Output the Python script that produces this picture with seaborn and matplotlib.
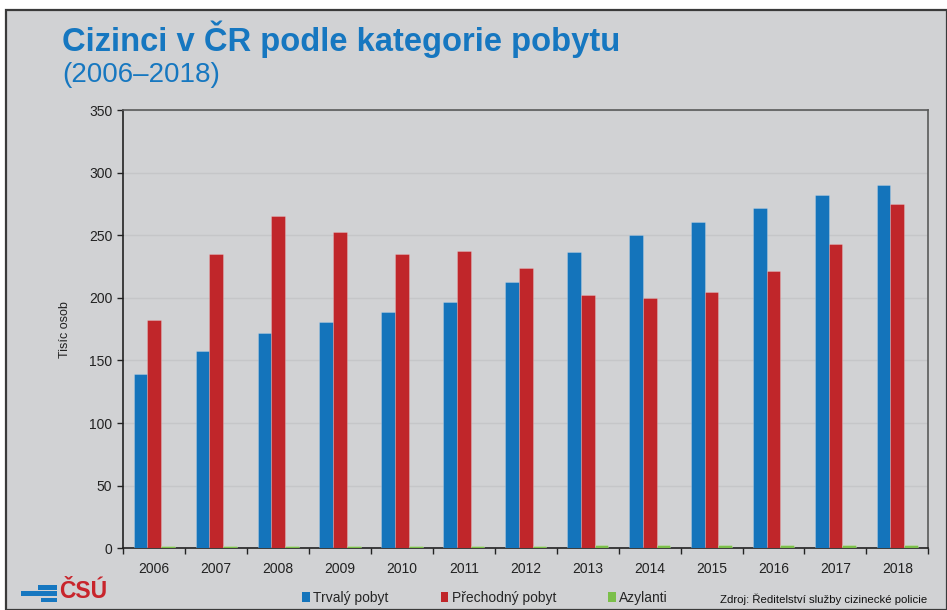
import pandas as pd
import matplotlib.pyplot as plt
import seaborn as sns
from matplotlib.patches import Patch, Rectangle

# data (thousands of persons)
years = ['2006', '2007', '2008', '2009', '2010', '2011', '2012',
         '2013', '2014', '2015', '2016', '2017', '2018']
trvaly = [139.2, 157.6, 172.2, 180.5, 189.0, 196.5, 212.8,
          236.8, 249.8, 260.2, 272.0, 281.8, 289.8]
prechodny = [182.4, 234.9, 265.3, 252.2, 235.4, 237.8, 223.7,
             202.6, 199.7, 204.8, 221.6, 242.6, 275.2]
azylanti = [1.9, 2.0, 2.1, 2.1, 2.2, 2.2, 2.2,
            2.3, 2.5, 2.8, 3.0, 2.6, 2.4]
series_names = ['Trvalý pobyt', 'Přechodný pobyt', 'Azylanti']
colors = ['#1474bb', '#c0262a', '#7bbf4a']

BG = '#d1d2d4'
BLUE = '#1677c0'

df = pd.DataFrame({
    'rok': years * 3,
    'hodnota': trvaly + prechodny + azylanti,
    'kategorie': [s for s in series_names for _ in years],
})

sns.set_style('white')
plt.rcParams['font.family'] = ['Liberation Sans', 'DejaVu Sans']

W, H = 947, 610
fig = plt.figure(figsize=(W / 100, H / 100), dpi=100)
fig.patch.set_facecolor('white')

# grey panel with dark frame
fig.add_artist(Rectangle((6 / W, 0), 1 - 6 / W, 1 - 10 / H, transform=fig.transFigure,
                         facecolor=BG, edgecolor='#3a3a3a', lw=1.6, zorder=0))

ax = fig.add_axes([123.3 / W, 1 - 548.3 / H, (928.3 - 123.3) / W, (548.3 - 110) / H])
ax.set_facecolor(BG)

sns.barplot(data=df, x='rok', y='hodnota', hue='kategorie', palette=colors,
            saturation=1, width=0.665, gap=0, ax=ax, legend=False,
            edgecolor=(1, 1, 1, 0.25), linewidth=0.6, zorder=3)

ax.set_ylim(0, 350)
ax.set_xlim(-0.5, len(years) - 0.5)
ax.set_yticks(range(0, 351, 50))
ax.yaxis.grid(True, color='#c5c6c8', lw=1, zorder=0)
ax.set_axisbelow(True)

ax.set_xlabel('')
ax.set_ylabel('Tisíc osob', fontsize=9, color='#222222', labelpad=13)

ax.tick_params(axis='y', which='major', length=4, width=1, color='#222222',
               labelsize=10, labelcolor='#222222', pad=4, left=True)
ax.tick_params(axis='x', which='major', length=0, labelsize=10,
               labelcolor='#222222', pad=10)
ax.set_xticks([i + 0.5 for i in range(-1, len(years))], minor=True)
ax.tick_params(axis='x', which='minor', length=4, width=1, color='#222222',
               direction='out', bottom=True)

for side in ['left', 'bottom']:
    ax.spines[side].set_color('#222222')
    ax.spines[side].set_linewidth(1.2)
for side in ['top', 'right']:
    ax.spines[side].set_color('#5a5a5a')
    ax.spines[side].set_linewidth(1.2)

# titles
fig.text(62 / W, 1 - 21 / H, 'Cizinci v ČR podle kategorie pobytu', fontsize=23.6,
         fontweight='bold', color=BLUE, ha='left', va='top')
fig.text(62 / W, 1 - 62 / H, '(2006–2018)', fontsize=20, color=BLUE,
         ha='left', va='top')

# legend
handles = [Patch(facecolor=c, edgecolor='none') for c in colors]
fig.legend(handles, series_names, loc='center left',
           bbox_to_anchor=(302 / W, 1 - 598 / H), ncol=3, frameon=False,
           fontsize=10, handlelength=0.55, handleheight=0.7, handletextpad=0.25,
           columnspacing=3.75, borderpad=0, borderaxespad=0)

fig.text(927 / W, 1 - 599 / H, 'Zdroj: Ředitelství služby cizinecké policie',
         fontsize=8.2, color='#111111', ha='right', va='center')

# CSU logo
for x0, x1, y0, y1 in [(38, 57, 585, 589.5), (21, 57, 591, 596), (41, 57, 597.5, 602)]:
    fig.add_artist(Rectangle((x0 / W, 1 - y1 / H), (x1 - x0) / W, (y1 - y0) / H,
                             transform=fig.transFigure, facecolor=BLUE,
                             edgecolor='none'))
fig.text(59 / W, 1 - 591 / H, 'ČSÚ', fontsize=16.5, fontweight='bold',
         color='#c8252c', ha='left', va='center')

fig.savefig('out.png', dpi=100, facecolor=fig.get_facecolor())
